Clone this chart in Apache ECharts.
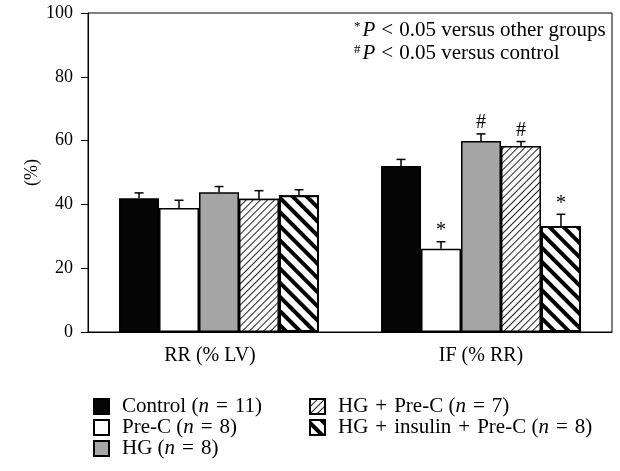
<!DOCTYPE html>
<html>
<head>
<meta charset="utf-8">
<script src="https://cdn.jsdelivr.net/npm/echarts@6/dist/echarts.min.js"></script>
<style>
  html, body { margin: 0; padding: 0; background: #fff; }
  #chart { width: 620px; height: 471px; }
</style>
</head>
<body>
<div id="chart"></div>
<script>
const categories = ['RR (% LV)', 'IF (% RR)'];
const groupNames = ['Control', 'Pre-C', 'HG', 'HG + Pre-C', 'HG + insulin + Pre-C'];
const groupN = [11, 8, 8, 7, 8];

const controlVals = [41.9, 52.0];
const preCVals = [38.9, 26.1];
const hgVals = [43.8, 59.9];
const hgPreCVals = [41.8, 58.3];
const hgInsPreCVals = [42.9, 33.2];

const controlErr = [1.7, 2.1];
const preCErr = [2.4, 2.2];
const hgErr = [1.8, 2.2];
const hgPreCErr = [2.5, 1.4];
const hgInsPreCErr = [1.7, 3.7];

const controlMarks = ['', ''];
const preCMarks = ['', '*'];
const hgMarks = ['', '#'];
const hgPreCMarks = ['', '#'];
const hgInsPreCMarks = ['', '*'];

const yTicks = [0, 20, 40, 60, 80, 100];

const values = [controlVals, preCVals, hgVals, hgPreCVals, hgInsPreCVals];
const errors = [controlErr, preCErr, hgErr, hgPreCErr, hgInsPreCErr];
const marks = [controlMarks, preCMarks, hgMarks, hgPreCMarks, hgInsPreCMarks];

const FONT = '"Liberation Serif", "DejaVu Serif", serif';
const CAT_GAP = 0.237;

const styles = [
  { color: '#050505', borderColor: '#000', borderWidth: 1.2 },
  { color: '#fff', borderColor: '#000', borderWidth: 1.5 },
  { color: '#a6a6a6', borderColor: '#000', borderWidth: 1.5 },
  {
    color: '#fff', borderColor: '#000', borderWidth: 1.5,
    decal: {
      symbol: 'rect', color: '#222', backgroundColor: '#fff',
      dashArrayX: [1, 0], dashArrayY: [1, 3.4], rotation: -Math.PI / 4
    }
  },
  {
    color: '#fff', borderColor: '#000', borderWidth: 2,
    decal: {
      symbol: 'rect', color: '#000', backgroundColor: '#fff',
      dashArrayX: [1, 0], dashArrayY: [3.5, 5.5], rotation: Math.PI / 4
    }
  }
];

const legendFormatter = (name) => {
  const i = groupNames.indexOf(name);
  return name.split(' + ').join('{p|+}') + ' ({i|n}{e|=}' + groupN[i] + ')';
};

const barSeries = values.map((vals, k) => ({
  name: groupNames[k],
  type: 'bar',
  data: vals,
  barGap: 0,
  barCategoryGap: (CAT_GAP * 100) + '%',
  itemStyle: styles[k],
  emphasis: { disabled: true }
}));

const errData = [];
values.forEach((vals, k) => {
  vals.forEach((v, c) => {
    errData.push([c, v, errors[k][c], k, marks[k][c]]);
  });
});

const errSeries = {
  type: 'custom',
  data: errData,
  z: 5,
  silent: true,
  renderItem: (params, api) => {
    const c = api.value(0);
    const v = api.value(1);
    const e = api.value(2);
    const k = api.value(3);
    const mark = errData[params.dataIndex][4];
    const catW = api.size([1, 0])[0];
    const barW = catW * (1 - CAT_GAP) / 5;
    const base = api.coord([c, v]);
    const top = api.coord([c, v + e]);
    const x = base[0] + (k - 2) * barW;
    const children = [
      { type: 'line', shape: { x1: x, y1: base[1], x2: x, y2: top[1] }, style: { stroke: '#000', lineWidth: 1.5 } },
      { type: 'line', shape: { x1: x - 4.5, y1: top[1], x2: x + 4.5, y2: top[1] }, style: { stroke: '#000', lineWidth: 1.5 } }
    ];
    if (mark) {
      children.push({
        type: 'text',
        style: {
          text: mark, x: x, y: top[1] - 1,
          align: 'center', verticalAlign: 'bottom',
          font: '20px ' + FONT, fill: '#000'
        }
      });
    }
    return { type: 'group', children };
  }
};

const chart = echarts.init(document.getElementById('chart'), null, { renderer: 'canvas' });

const legendText = {
  fontFamily: FONT, fontSize: 21, color: '#000', lineHeight: 20,
  padding: [0, 0, 0, 8],
  rich: {
    i: { fontFamily: FONT, fontSize: 21, fontStyle: 'italic', color: '#000', lineHeight: 20 },
    e: { fontFamily: FONT, fontSize: 21, color: '#000', lineHeight: 20, padding: [0, 7, 0, 7] },
    p: { fontFamily: FONT, fontSize: 21, color: '#000', lineHeight: 20, padding: [0, 7, 0, 7] }
  }
};

const noteRich = {
  s: { fontFamily: FONT, fontSize: 13, verticalAlign: 'top', padding: [0, 2, 8, 0] },
  i: { fontFamily: FONT, fontSize: 21, fontStyle: 'italic' },
  o: { fontFamily: FONT, fontSize: 21, padding: [0, 6, 0, 6] }
};

chart.setOption({
  animation: false,
  backgroundColor: '#fff',
  grid: { left: 88, right: 8, top: 13, bottom: 139, show: true, borderColor: '#000', borderWidth: 1, backgroundColor: 'transparent' },
  xAxis: {
    type: 'category',
    data: categories,
    axisLine: { lineStyle: { color: '#000', width: 1 } },
    axisTick: { show: false },
    axisLabel: {
      color: '#000', fontFamily: FONT, fontSize: 20, margin: 14,
      formatter: (v, i) => i === 0 ? '{a|' + v + '}' : '{b|' + v + '}',
      rich: {
        a: { fontFamily: FONT, fontSize: 20, color: '#000', padding: [0, 18, 0, 0] },
        b: { fontFamily: FONT, fontSize: 20, color: '#000' }
      }
    }
  },
  yAxis: {
    type: 'value',
    min: yTicks[0],
    max: yTicks[yTicks.length - 1],
    interval: 20,
    name: '(%)',
    nameLocation: 'middle',
    nameRotate: 90,
    nameGap: 47,
    nameMoveOverlap: false,
    nameTextStyle: { color: '#000', fontFamily: FONT, fontSize: 18 },
    axisLine: { show: true, lineStyle: { color: '#000', width: 1 } },
    axisTick: { show: true, length: 7, inside: false, lineStyle: { color: '#000' } },
    splitLine: { show: false },
    axisLabel: { color: '#000', fontFamily: FONT, fontSize: 18, margin: 15 }
  },
  legend: [
    {
      data: groupNames.slice(0, 3),
      orient: 'vertical', left: 88, top: 391,
      icon: 'rect', itemWidth: 15, itemHeight: 15, itemGap: 0,
      formatter: legendFormatter, textStyle: legendText,
      selectedMode: false
    },
    {
      data: groupNames.slice(3),
      orient: 'vertical', left: 304, top: 391,
      icon: 'rect', itemWidth: 15, itemHeight: 15, itemGap: 0,
      formatter: legendFormatter, textStyle: legendText,
      selectedMode: false
    }
  ],
  graphic: [
    {
      type: 'text', left: 354, top: 20,
      style: {
        text: '{s|*}{i|P}{o|<}0.05 versus other groups',
        font: '21px ' + FONT, fill: '#000', rich: noteRich
      }
    },
    {
      type: 'text', left: 354, top: 43,
      style: {
        text: '{s|#}{i|P}{o|<}0.05 versus control',
        font: '21px ' + FONT, fill: '#000', rich: noteRich
      }
    }
  ],
  series: [...barSeries, errSeries]
});
</script>
</body>
</html>
